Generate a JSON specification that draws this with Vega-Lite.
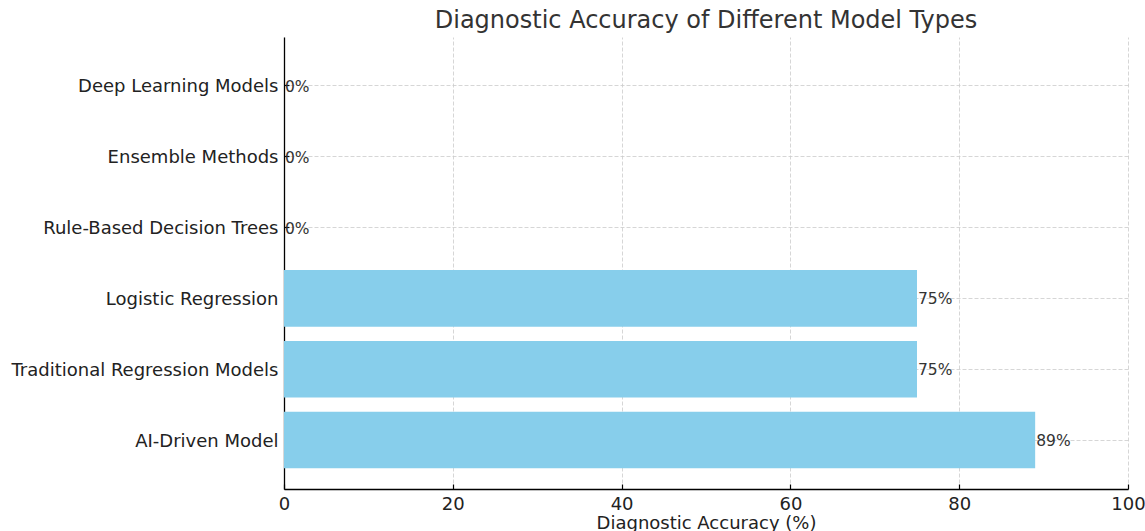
{
  "$schema": "https://vega.github.io/schema/vega-lite/v6.json",
  "width": 844,
  "height": 452,
  "autosize": {"type": "none"},
  "padding": {"left": 284, "top": 37, "right": 17, "bottom": 42},
  "background": "white",
  "config": {
    "view": {"stroke": null},
    "font": "DejaVu Sans",
    "axis": {"zindex": 1, "gridColor": "#cccccc", "gridDash": [4, 2], "gridWidth": 0.8, "domainColor": "#000000", "domainWidth": 1.3, "tickColor": "#000000", "tickSize": -5, "tickWidth": 1.2, "labelFont": "DejaVu Sans", "titleFont": "DejaVu Sans", "labelColor": "#222222", "titleColor": "#222222", "titleFontWeight": "normal", "labelFontSize": 18, "titleFontSize": 18, "labelLimit": 0}
  },
  "title": {"text": "Diagnostic Accuracy of Different Model Types", "font": "DejaVu Sans", "fontSize": 24, "fontWeight": "normal", "color": "#333333", "offset": 4},
  "data": {"values": [
    {"model": "AI-Driven Model", "accuracy": 89, "label": "89%"},
    {"model": "Traditional Regression Models", "accuracy": 75, "label": "75%"},
    {"model": "Logistic Regression", "accuracy": 75, "label": "75%"},
    {"model": "Rule-Based Decision Trees", "accuracy": 0, "label": "0%"},
    {"model": "Ensemble Methods", "accuracy": 0, "label": "0%"},
    {"model": "Deep Learning Models", "accuracy": 0, "label": "0%"}
  ]},
  "encoding": {
    "y": {"field": "model", "type": "nominal", "sort": ["Deep Learning Models", "Ensemble Methods", "Rule-Based Decision Trees", "Logistic Regression", "Traditional Regression Models", "AI-Driven Model"], "scale": {"paddingInner": 0.2, "paddingOuter": 0.292}, "axis": {"title": null, "labelPadding": 11, "labelOffset": 1.5, "grid": true}},
    "x": {"field": "accuracy", "type": "quantitative", "scale": {"domain": [0, 100], "nice": false}, "axis": {"title": "Diagnostic Accuracy (%)", "values": [0, 20, 40, 60, 80, 100], "labelFlush": false, "labelPadding": 11, "titlePadding": 1, "grid": true}}
  },
  "layer": [
    {"mark": {"type": "bar", "color": "#87CEEB"}},
    {"mark": {"type": "text", "align": "left", "baseline": "middle", "dx": 1, "dy": 1, "fontSize": 15.5, "color": "#333333", "font": "DejaVu Sans"}, "encoding": {"text": {"field": "label", "type": "nominal"}}}
  ]
}
